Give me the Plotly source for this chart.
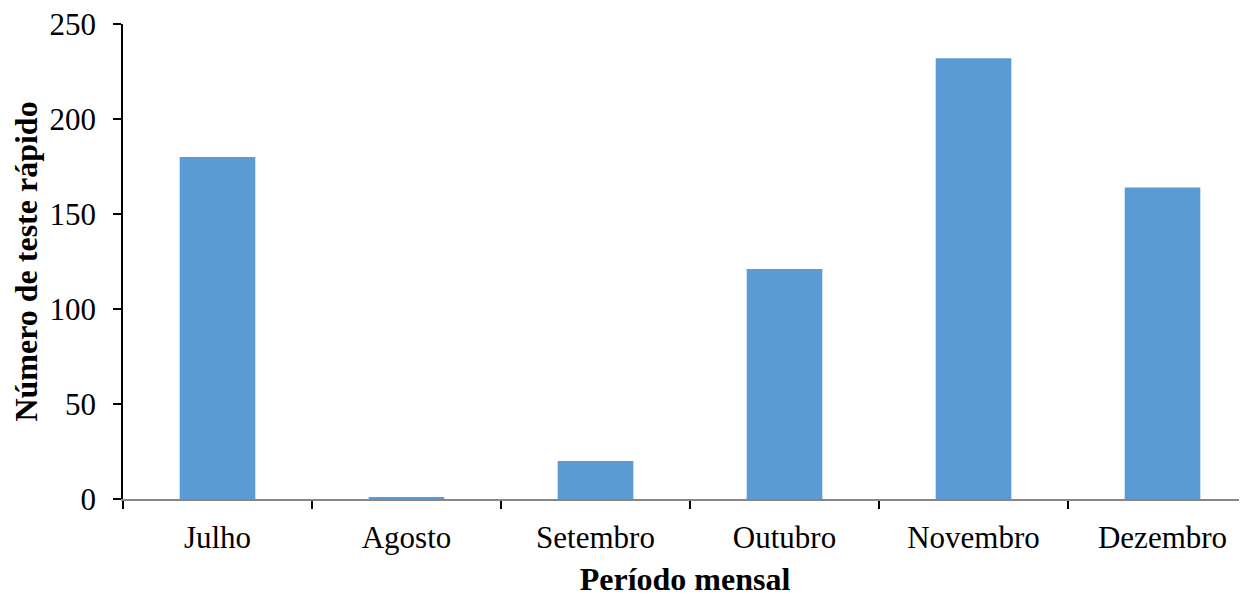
import plotly.graph_objects as go

meses = ["Julho", "Agosto", "Setembro", "Outubro", "Novembro", "Dezembro"]
testes = [180, 1, 20, 121, 232, 164]

fig = go.Figure(go.Bar(x=meses, y=testes, marker=dict(color="#5B9BD5", line=dict(width=0)), width=0.4))

font = "Liberation Serif, Times New Roman, serif"
fig.update_layout(
    width=1247, height=595,
    margin=dict(l=115, r=8, t=16, b=104),
    plot_bgcolor="white", paper_bgcolor="white",
    font=dict(family=font, size=31, color="black"),
    showlegend=False,
)
fig.update_xaxes(
    type="category", range=[-0.5, 5.447], automargin=False,
    showline=True, linecolor="#868686", linewidth=1.5,
    ticks="outside", tickson="boundaries", ticklen=8, tickcolor="black", tickwidth=1.5,
    showgrid=False, ticklabelstandoff=10,
    tickfont=dict(family=font, size=31),
    title=dict(text="<b>Período mensal</b>", font=dict(family=font, size=32), standoff=14),
)
fig.update_yaxes(
    range=[0, 250], dtick=50, automargin=False,
    showline=True, linecolor="black", linewidth=1.5,
    ticks="outside", ticklen=8, tickcolor="black", tickwidth=1.5,
    showgrid=False, zeroline=False, ticklabelstandoff=11, ticklabeloverflow="allow",
    tickfont=dict(family=font, size=31),
    title=dict(text="<b>Número de teste rápido</b>", font=dict(family=font, size=32), standoff=8),
)
fig.write_html("out.html")
